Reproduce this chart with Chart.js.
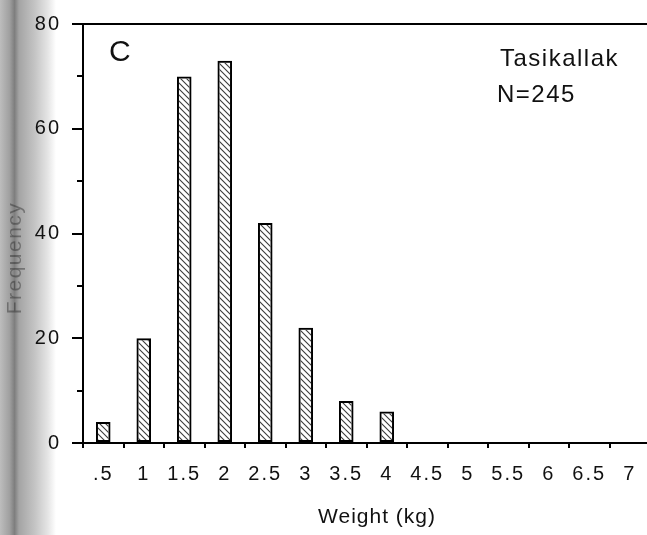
<!DOCTYPE html>
<html>
<head>
<meta charset="utf-8">
<script src="https://cdn.jsdelivr.net/npm/chart.js@4.4.1/dist/chart.umd.min.js"></script>
<style>
  html, body { margin: 0; padding: 0; background: #fff; overflow: hidden; }
  #contenedor { width: 650px; height: 535px; }
</style>
</head>
<body>
<div id="contenedor"><canvas id="grafico-pesos"></canvas></div>
<script>
// Clases de peso (kg) y numero de ejemplares en cada una
var PESOS = [".5", "1", "1.5", "2", "2.5", "3", "3.5", "4", "4.5", "5", "5.5", "6", "6.5", "7"];
var FRECUENCIAS = [4, 20, 70, 73, 42, 22, 8, 6, 0, 0, 0, 0, 0, 0];
var Y_MAX = 80;
var Y_PASO = 10;        // marcas menores cada 10
var Y_PASO_ETIQUETA = 20;

var FUENTE = "'Liberation Sans', Arial, Helvetica, sans-serif";
var NEGRO = "#111";

/** Rayado diagonal de relleno para las barras. */
function patronRayado() {
    var c = document.createElement("canvas");
    c.width = 6;
    c.height = 6;
    var p = c.getContext("2d");
    p.strokeStyle = "#3c3c3c";
    p.lineWidth = 1.1;
    p.beginPath();
    p.moveTo(-1, -1); p.lineTo(7, 7);
    p.moveTo(-1, 5); p.lineTo(1, 7);
    p.moveTo(5, -1); p.lineTo(7, 1);
    p.stroke();
    return p.createPattern(c, "repeat");
}

// Franja gris del margen izquierdo (sombra del lomo) y espaciado de letras
var fondoMargen = {
    id: "fondoMargen",
    beforeDraw: function (chart) {
        var ctx = chart.ctx;
        ctx.save();
        var g = ctx.createLinearGradient(0, 0, 56, 0);
        g.addColorStop(0, "#bdbdbd");
        g.addColorStop(0.17, "#a0a0a0");
        g.addColorStop(0.26, "#7e7e7e");
        g.addColorStop(0.34, "#a4a4a4");
        g.addColorStop(0.62, "#c4c4c4");
        g.addColorStop(0.85, "#e4e4e4");
        g.addColorStop(1, "#ffffff");
        ctx.fillStyle = g;
        ctx.fillRect(0, 0, 56, chart.height);
        ctx.restore();
        ctx.letterSpacing = "2px";
    }
};

// Marcas cortas del eje Y en los valores intermedios (10, 30, 50, 70)
var marcasMenores = {
    id: "marcasMenores",
    afterDraw: function (chart) {
        var ey = chart.scales.y;
        var ctx = chart.ctx;
        ctx.save();
        ctx.strokeStyle = "#000";
        ctx.lineWidth = 2;
        ey.ticks.forEach(function (t) {
            if (t.value % Y_PASO_ETIQUETA === 0) { return; }
            var py = Math.round(ey.getPixelForValue(t.value));
            ctx.beginPath();
            ctx.moveTo(ey.right - 6, py);
            ctx.lineTo(ey.right, py);
            ctx.stroke();
        });
        ctx.restore();
    }
};

function texto(ctx, s, x, y, tam, espaciado, alinear) {
    ctx.font = tam + "px " + FUENTE;
    ctx.letterSpacing = espaciado + "px";
    ctx.textAlign = alinear || "left";
    ctx.textBaseline = "alphabetic";
    ctx.fillText(s, x, y);
}

// Rotulos: letra del panel, localidad, tamano de muestra y titulos de ejes
var rotulos = {
    id: "rotulos",
    afterDraw: function (chart) {
        var ctx = chart.ctx;
        ctx.save();
        ctx.fillStyle = NEGRO;
        texto(ctx, "C", 109, 61, 30, 0);
        texto(ctx, "Tasikallak", 500, 66, 24, 1.5);
        texto(ctx, "N=245", 497, 102, 24, 1.5);
        texto(ctx, "Weight (kg)", 377, 523, 21, 1, "center");
        ctx.translate(21, 258);
        ctx.rotate(-Math.PI / 2);
        ctx.fillStyle = "rgba(30,30,30,0.4)";
        texto(ctx, "Frequency", 0, 0, 21, 1.5, "center");
        ctx.restore();
    }
};

document.addEventListener("DOMContentLoaded", function () {
    var canvas = document.getElementById("grafico-pesos");
    new Chart(canvas.getContext("2d"), {
        type: "bar",
        data: {
            labels: PESOS,
            datasets: [{
                label: "Frequency",
                data: FRECUENCIAS,
                backgroundColor: patronRayado(),
                borderColor: "#000",
                borderWidth: function (c) { return c.raw > 0 ? 2 : 0; },
                borderSkipped: false,
                barPercentage: 0.36,
                categoryPercentage: 1
            }]
        },
        options: {
            responsive: true,
            maintainAspectRatio: false,
            animation: false,
            devicePixelRatio: 1,
            layout: { padding: { top: 24, right: 0, left: 0, bottom: 0 } },
            plugins: { legend: { display: false }, tooltip: { enabled: false } },
            scales: {
                x: {
                    afterFit: function (s) { s.height = 92; },
                    ticks: {
                        padding: 14, color: NEGRO, maxRotation: 0, autoSkip: false,
                        font: { family: FUENTE, size: 20 }
                    },
                    grid: { offset: true, drawOnChartArea: false, tickLength: 5, lineWidth: 2, color: "#000" },
                    border: { display: true, color: "#000", width: 2 }
                },
                y: {
                    min: 0,
                    max: Y_MAX,
                    afterFit: function (s) { s.width = 83; },
                    ticks: {
                        stepSize: Y_PASO, padding: 11, color: NEGRO,
                        font: { family: FUENTE, size: 20 },
                        callback: function (v) { return v % Y_PASO_ETIQUETA === 0 ? v : ""; }
                    },
                    grid: {
                        lineWidth: 2,
                        tickLength: 11,
                        color: function (c) { return c.tick && c.tick.value === Y_MAX ? "#000" : "rgba(0,0,0,0)"; },
                        tickColor: function (c) { return c.tick && c.tick.value % Y_PASO_ETIQUETA === 0 ? "#000" : "rgba(0,0,0,0)"; }
                    },
                    border: { display: true, color: "#000", width: 2 }
                }
            }
        },
        plugins: [fondoMargen, marcasMenores, rotulos]
    });
});
</script>
</body>
</html>
